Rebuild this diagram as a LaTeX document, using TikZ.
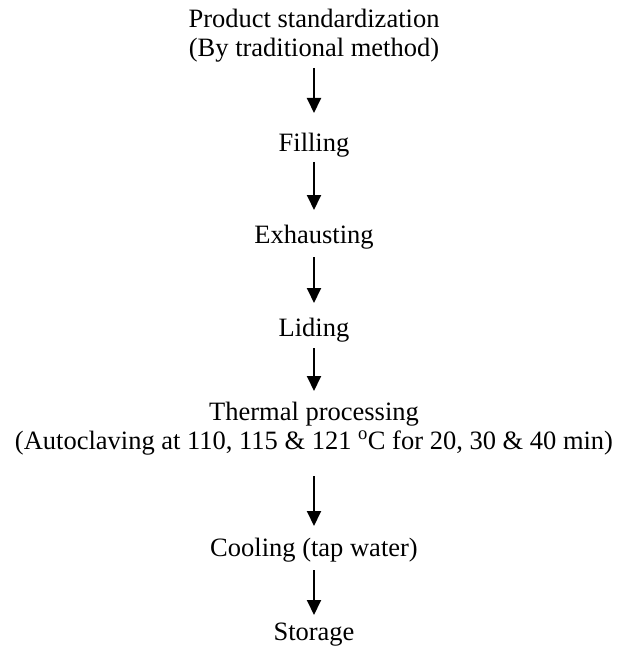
\documentclass[tikz,border=0pt]{standalone}
\usepackage{fontspec}
\setmainfont{Liberation Serif}
\usetikzlibrary{arrows.meta}
\begin{document}
\begin{tikzpicture}[x=1pt,y=1pt,
  lbl/.style={anchor=base,inner sep=0pt,font=\fontsize{26.5}{29}\selectfont},
  arr/.style={line width=1.9pt,-{Triangle[width=14pt,length=15pt]}}]
\useasboundingbox (0,0) rectangle (616,-647);
\node[lbl] (p1) at (314,-28) {Product standardization};
\node[lbl] (p2) at (314,-57) {(By traditional method)};
\node[lbl] (fill) at (314,-152) {Filling};
\node[lbl] (exh) at (314,-243) {Exhausting};
\node[lbl] (lid) at (314,-336) {Liding};
\node[lbl] (th1) at (314,-420) {Thermal processing};
\node[lbl] (th2) at (314,-449) {(Autoclaving at 110, 115 \& 121 \textsuperscript{o}C for 20, 30 \& 40 min)};
\node[lbl] (cool) at (314,-556) {Cooling (tap water)};
\node[lbl] (stor) at (314,-640) {Storage};
\draw[arr] ([yshift=-11pt]p2.base) -- ([yshift=39pt]fill.base);
\draw[arr] ([yshift=-10pt]fill.base) -- ([yshift=33pt]exh.base);
\draw[arr] ([yshift=-14pt]exh.base) -- ([yshift=33pt]lid.base);
\draw[arr] ([yshift=-12pt]lid.base) -- ([yshift=29pt]th1.base);
\draw[arr] ([yshift=-27pt]th2.base) -- ([yshift=30pt]cool.base);
\draw[arr] ([yshift=-14pt]cool.base) -- ([yshift=25pt]stor.base);
\end{tikzpicture}
\end{document}
